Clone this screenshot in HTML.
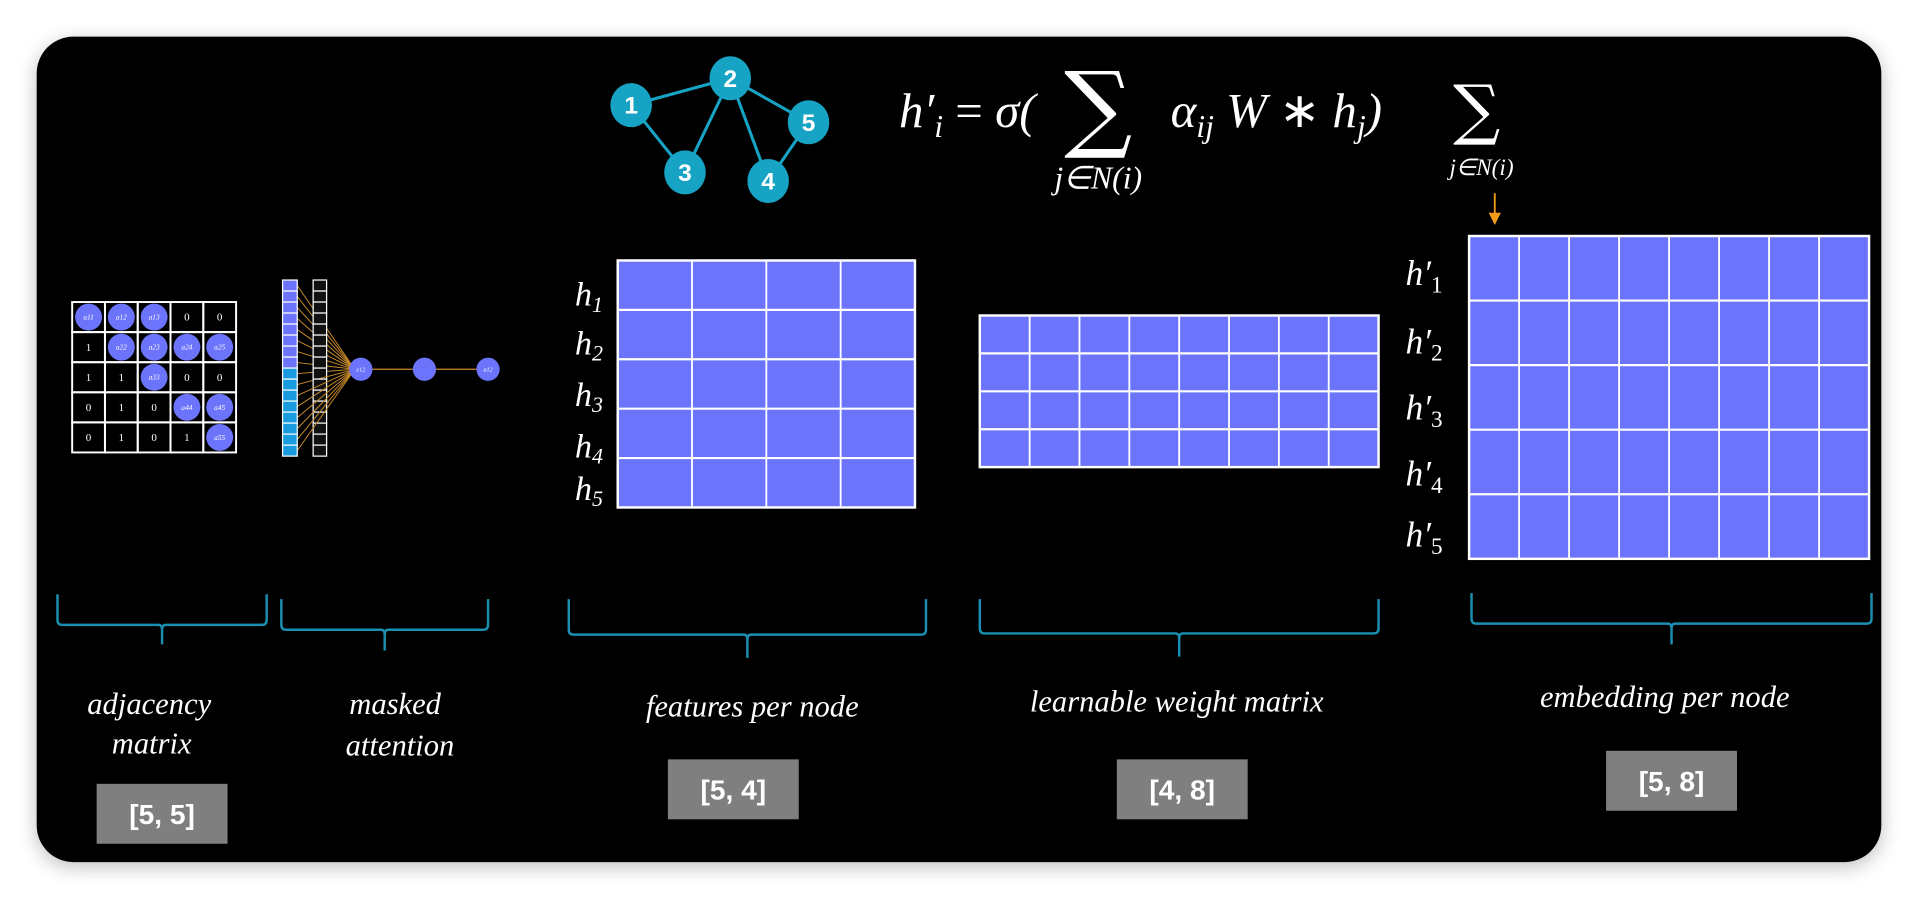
<!DOCTYPE html>
<html><head><meta charset="utf-8"><style>
html,body{margin:0;padding:0;background:#fff;width:1918px;height:900px;overflow:hidden}
svg{display:block}
.it{font-family:"Liberation Serif",serif;font-style:italic;fill:#fff}
.bx{font-family:"Liberation Sans",sans-serif;font-weight:bold;fill:#fff}
</style></head><body>
<svg id="s" width="1918" height="900" viewBox="0 0 1568 736" preserveAspectRatio="none" xmlns="http://www.w3.org/2000/svg">
<defs><filter id="sh" x="-5%" y="-5%" width="110%" height="110%"><feGaussianBlur stdDeviation="8"/></filter></defs>
<rect x="30" y="34" width="1508" height="675" rx="30" fill="#000" opacity="0.25" filter="url(#sh)"/>
<rect x="30" y="30" width="1508" height="675" rx="30" fill="#000"/>
<g id="graph"></g>
<g>
<text class="it" x="735" y="104" font-size="40">h′<tspan font-size="26" dy="8">i</tspan><tspan dy="-8" font-style="normal"> = </tspan>σ(</text>
<text x="870" y="114" font-size="78" fill="#fff" font-family="DejaVu Serif,serif">∑</text>
<text class="it" x="862" y="154" font-size="26">j∈N(i)</text>
<text class="it" x="957" y="104" font-size="40">α<tspan font-size="26" dy="8">ij</tspan><tspan dy="-8"> W </tspan><tspan font-style="normal">∗</tspan> h<tspan font-size="26" dy="8">j</tspan><tspan dy="-8">)</tspan></text>
<text x="1188" y="108" font-size="54" fill="#fff" font-family="DejaVu Serif,serif">∑</text>
<text class="it" x="1185" y="143" font-size="19">j∈N(i)</text>
<line x1="1222" y1="158" x2="1222" y2="176" stroke="#f39c1a" stroke-width="1.5"/>
<polygon points="1217,174 1227,174 1222,184" fill="#f39c1a"/>
</g>
<g id="adj"></g>
<g id="mask"></g>
<g id="mats"></g>
<g id="braces"></g>
<g font-size="25">
<text class="it" x="122" y="584" text-anchor="middle">adjacency</text>
<text class="it" x="124" y="616" text-anchor="middle">matrix</text>
<text class="it" x="323" y="584" text-anchor="middle">masked</text>
<text class="it" x="327" y="618" text-anchor="middle">attention</text>
<text class="it" x="615" y="586" text-anchor="middle">features per node</text>
<text class="it" x="962" y="582" text-anchor="middle">learnable weight matrix</text>
<text class="it" x="1361" y="578" text-anchor="middle">embedding per node</text>
</g>
<g id="shapes"></g>
</svg>
<script>
const NS="http://www.w3.org/2000/svg";
function mk(p,t,a){const e=document.createElementNS(NS,t);for(const k in a)e.setAttribute(k,a[k]);p.appendChild(e);return e;}
const PUR="#6b74fb", CY="#17a3c4";
// graph
const nodeIds=["1","2","3","4","5"];
const nodeX=[516,597,560,628,661];
const nodeY=[86,64,141,148,100];
const edges=[[0,1],[0,2],[2,1],[1,3],[1,4],[3,4]];
const g=document.getElementById('graph');
edges.forEach(e=>{const l=mk(g,'line',{x1:nodeX[e[0]],y1:nodeY[e[0]],x2:nodeX[e[1]],y2:nodeY[e[1]],stroke:CY,'stroke-width':2.5});

});
nodeIds.forEach((id,i)=>{const c=mk(g,'ellipse',{cx:nodeX[i],cy:nodeY[i],rx:17,ry:18,fill:CY});


const t=mk(g,'text',{x:nodeX[i],y:nodeY[i]+7,'text-anchor':'middle','font-size':20,'font-weight':'bold',fill:'#fff','font-family':'Liberation Sans,sans-serif'});t.textContent=id;});
// adjacency
const adjVals=[["a11","a12","a13","0","0"],["1","a22","a23","a24","a25"],["1","1","a33","0","0"],["0","1","0","a44","a45"],["0","1","0","1","a55"]];
const a=document.getElementById('adj');const ax=59,ay=247,cw=26.8,ch=24.6;
adjVals.forEach((row,r)=>row.forEach((v,c)=>{const x=ax+c*cw,y=ay+r*ch;
const rc=mk(a,'rect',{x:x,y:y,width:cw,height:ch,fill:'none',stroke:'#fff','stroke-width':1.6});


if(v[0]==='a'){mk(a,'circle',{cx:x+cw/2,cy:y+ch/2,r:11,fill:PUR});const t=mk(a,'text',{x:x+cw/2,y:y+ch/2+2,'text-anchor':'middle','font-size':6,fill:'#fff','font-family':'Liberation Serif,serif','font-style':'italic'});t.textContent=v;}
else{const t=mk(a,'text',{x:x+cw/2,y:y+ch/2+3,'text-anchor':'middle','font-size':9,fill:'#fff','font-family':'Liberation Serif,serif'});t.textContent=v;}}));
// mask
const m=document.getElementById('mask');const nCells=16,my=229,mh=144/16;
for(let i=0;i<nCells;i++){const y=my+i*mh;
mk(m,'line',{x1:243,y1:y+mh/2,x2:290,y2:302,stroke:'#c98a2a','stroke-width':0.8});
const r1=mk(m,'rect',{x:231,y:y,width:12,height:mh,fill:i<8?PUR:'#1a9be0',stroke:'#fff','stroke-width':1});


mk(m,'rect',{x:256,y:y,width:11,height:mh,fill:'#111',stroke:'#fff','stroke-width':1});}
mk(m,'line',{x1:295,y1:302,x2:399,y2:302,stroke:'#c98a2a','stroke-width':1});
[[295,'e12'],[347,''],[399,'a12']].forEach(p=>{mk(m,'circle',{cx:p[0],cy:302,r:9.5,fill:PUR});const t=mk(m,'text',{x:p[0],y:304,'text-anchor':'middle','font-size':5,fill:'#fff','font-family':'Liberation Serif,serif','font-style':'italic'});t.textContent=p[1];});
// matrices
const mats=[
 {name:'feature-matrix',x:505,y:213,w:243,h:202,rows:5,cols:4},
 {name:'weight-matrix',x:801,y:258,w:326,h:124,rows:4,cols:8},
 {name:'embedding-matrix',x:1201,y:193,w:327,h:264,rows:5,cols:8}];
const M=document.getElementById('mats');
mats.forEach(d=>{const gg=mk(M,'g',{});
mk(gg,'rect',{x:d.x,y:d.y,width:d.w,height:d.h,fill:PUR,stroke:'#fff','stroke-width':2});
for(let c=1;c<d.cols;c++){const x=d.x+c*d.w/d.cols;mk(gg,'line',{x1:x,y1:d.y,x2:x,y2:d.y+d.h,stroke:'#fff','stroke-width':1.5});}
for(let r=1;r<d.rows;r++){const y=d.y+r*d.h/d.rows;mk(gg,'line',{x1:d.x,y1:y,x2:d.x+d.w,y2:y,stroke:'#fff','stroke-width':1.8});}});
const hY=[250,290,332,374,409];
hY.forEach((y,i)=>{const t=mk(M,'text',{x:470,y:y,class:'it','font-size':28});t.innerHTML='h<tspan font-size="18" dy="5">'+(i+1)+'</tspan>';});
const hpY=[233,289,343,397,447];
hpY.forEach((y,i)=>{const t=mk(M,'text',{x:1149,y:y,class:'it','font-size':29});t.innerHTML='h′<tspan font-size="19" dy="6" font-style="normal">'+(i+1)+'</tspan>';});
// braces
const br=[[47,218,486,511,527],[230,399,490,515,532],[465,757,490,519,538],[801,1127,490,518,537],[1203,1530,485,510,527]];
const B=document.getElementById('braces');
br.forEach(b=>{const mid=(b[0]+b[1])/2;const p=mk(B,'path',{d:`M${b[0]},${b[2]} L${b[0]},${b[3]-4} Q${b[0]},${b[3]} ${b[0]+4},${b[3]} L${mid-3},${b[3]} Q${mid},${b[3]} ${mid},${b[3]+4} L${mid},${b[4]} M${mid},${b[3]+4} Q${mid},${b[3]} ${mid+3},${b[3]} L${b[1]-4},${b[3]} Q${b[1]},${b[3]} ${b[1]},${b[3]-4} L${b[1]},${b[2]}`,fill:'none',stroke:'#1a8fb0','stroke-width':2});

});
// shape boxes
const shapes=[["[5, 5]",79,641],["[5, 4]",546,621],["[4, 8]",913,621],["[5, 8]",1313,614]];
const S=document.getElementById('shapes');
shapes.forEach(s=>{const r=mk(S,'rect',{x:s[1],y:s[2],width:107,height:49,fill:'#7f7f7f'});


const t=mk(S,'text',{x:s[1]+53.5,y:s[2]+33,'text-anchor':'middle','font-size':23,class:'bx'});t.textContent=s[0];});
</script>
</body></html>
